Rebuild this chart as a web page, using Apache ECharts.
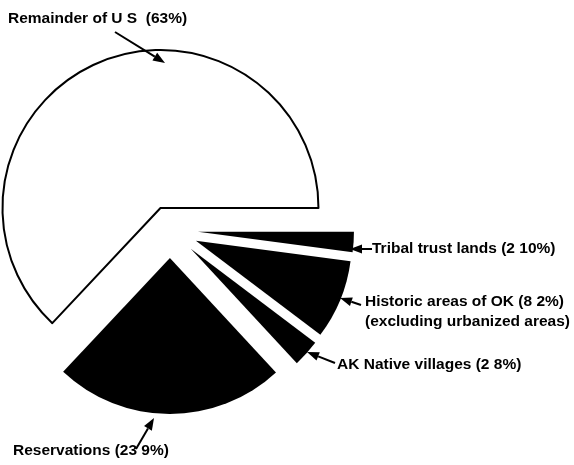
<html lang="en">
<head>
    <meta charset="UTF-8">
    <title>land areas pie</title>
    <script src="https://cdn.jsdelivr.net/npm/echarts@6/dist/echarts.min.js"></script>
    <style>
        html, body { margin: 0; padding: 0; background: #fff; }
        #chart { width: 574px; height: 465px; }
    </style>
</head>
<body>
<div id="chart"></div>
<script type="text/javascript">

    // slices, clockwise from 3 o'clock
    var names = ['Tribal trust lands', 'Historic areas of OK', 'AK Native villages', 'Reservations', 'Remainder of U S'];
    var values = [2.1, 8.2, 2.8, 23.9, 63];
    var labelText = ['Tribal trust lands (2 10%)', 'Historic areas of OK (8 2%)\n(excluding urbanized areas)',
        'AK Native villages (2 8%)', 'Reservations (23 9%)', 'Remainder of U S  (63%)'];

    // where each label sits (left, middle) and its arrow [from x, from y, tip x, tip y]
    var labelPos = [[372, 249], [365, 312], [337, 365], [13, 451], [8, 19]];
    var arrows = [[372, 249, 350, 249], [361, 305, 340, 298], [335, 363, 307, 352],
        [136, 449, 154, 418], [115, 32, 165, 63]];

    var REMAINDER = 4;

    function pieData(white) {
        return values.map(function (v, i) {
            var isRem = i === REMAINDER;
            var show = white ? isRem : !isRem;
            return {
                name: names[i],
                value: v,
                selected: show,
                itemStyle: show ? (white ? {color: '#fff', borderColor: '#000', borderWidth: 2}
                    : {color: '#000', borderWidth: 0}) : {color: 'rgba(0,0,0,0)', borderWidth: 0}
            };
        });
    }

    function makeSeries(white) {
        return {
            type: 'pie',
            center: [170, 230],
            radius: [0, white ? 158 : 156],
            startAngle: 0,
            clockwise: true,
            selectedMode: 'multiple',
            selectedOffset: white ? 24 : 28,
            silent: true,
            emphasis: {disabled: true},
            label: {show: false},
            labelLine: {show: false},
            data: pieData(white)
        };
    }

    var graphics = [];

    // labels
    labelText.forEach(function (t, i) {
        graphics.push({
            type: 'text', silent: true, z: 100,
            x: labelPos[i][0], y: labelPos[i][1],
            style: {
                text: t, fill: '#000',
                font: 'bold 15.5px "Liberation Sans"',
                lineHeight: 20,
                align: 'left', verticalAlign: 'middle'
            }
        });
    });

    // arrows: a line plus a small head at the tip
    arrows.forEach(function (a) {
        var dx = a[2] - a[0], dy = a[3] - a[1];
        var len = Math.sqrt(dx * dx + dy * dy);
        var ux = dx / len, uy = dy / len;
        var bx = a[2] - ux * 12, by = a[3] - uy * 12;
        graphics.push({
            type: 'line', silent: true, z: 100,
            shape: {x1: a[0], y1: a[1], x2: bx, y2: by},
            style: {stroke: '#000', lineWidth: 2}
        });
        graphics.push({
            type: 'polygon', silent: true, z: 100,
            shape: {points: [[a[2], a[3]], [bx - uy * 4.5, by + ux * 4.5], [bx + uy * 4.5, by - ux * 4.5]]},
            style: {fill: '#000'}
        });
    });

    var myChart = echarts.init(document.getElementById('chart'));
    myChart.setOption({
        animation: false,
        backgroundColor: '#fff',
        series: [makeSeries(true), makeSeries(false)],
        graphic: graphics
    });

</script>
</body>
</html>
